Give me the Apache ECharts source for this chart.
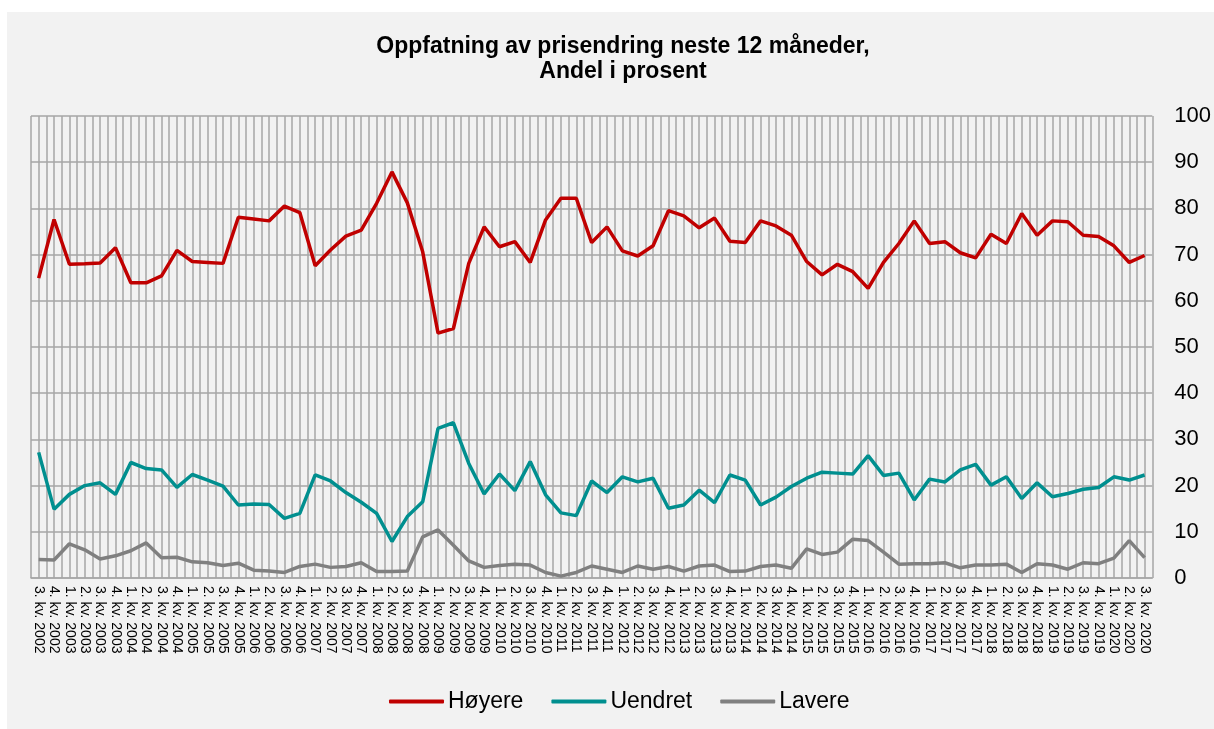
<!DOCTYPE html>
<html>
<head>
<meta charset="utf-8">
<script src="https://cdn.jsdelivr.net/npm/echarts@6/dist/echarts.min.js"></script>
<style>
  html, body { margin: 0; padding: 0; background: #ffffff; }
  #chart { position: absolute; left: 7px; top: 12px; width: 1207px; height: 717px; background: #f2f2f2; }
</style>
</head>
<body>
<div id="chart"></div>
<script>
// kvartaler 3. kv. 2002 - 3. kv. 2020
const quarters = [];
for (let y = 2002; y <= 2020; y++) {
  for (let q = 1; q <= 4; q++) {
    if (y === 2002 && q < 3) continue;
    if (y === 2020 && q > 3) continue;
    quarters.push(q + ". kv. " + y);
  }
}

const hoyere = [
  64.9, 77.6, 67.9, 68.0, 68.2, 71.5, 63.9, 63.9, 65.4, 70.9,
  68.5, 68.3, 68.1, 78.1, 77.7, 77.3, 80.5, 79.1, 67.6, 71.0,
  74.0, 75.3, 81.1, 87.9, 81.2, 70.6, 53.0, 54.0, 68.1, 76.0,
  71.7, 72.8, 68.3, 77.5, 82.2, 82.2, 72.6, 76.0, 70.8, 69.7,
  71.9, 79.5, 78.4, 75.8, 77.9, 72.9, 72.6, 77.3, 76.2, 74.2,
  68.5, 65.6, 67.9, 66.3, 62.7, 68.3, 72.4, 77.3, 72.4, 72.8,
  70.4, 69.3, 74.4, 72.4, 78.9, 74.2, 77.3, 77.1, 74.2, 73.9,
  71.9, 68.3, 69.8
];

const uendret = [
  27.2, 14.9, 18.1, 20.0, 20.6, 18.1, 25.0, 23.7, 23.4, 19.6,
  22.4, 21.2, 19.9, 15.8, 16.0, 15.9, 12.9, 14.0, 22.3, 21.0,
  18.5, 16.4, 14.0, 7.9, 13.3, 16.5, 32.4, 33.6, 24.8, 18.2,
  22.5, 18.9, 25.2, 18.0, 14.1, 13.5, 21.0, 18.5, 21.9, 20.8,
  21.6, 15.1, 15.8, 19.0, 16.3, 22.3, 21.2, 15.8, 17.5, 19.8,
  21.6, 22.9, 22.7, 22.5, 26.5, 22.2, 22.7, 16.9, 21.4, 20.8,
  23.4, 24.6, 20.1, 21.9, 17.2, 20.6, 17.6, 18.3, 19.2, 19.6,
  21.9, 21.2, 22.3
];

const lavere = [
  4.0, 3.9, 7.4, 6.1, 4.1, 4.8, 5.9, 7.6, 4.4, 4.5,
  3.5, 3.3, 2.7, 3.2, 1.7, 1.5, 1.2, 2.5, 3.0, 2.3,
  2.5, 3.3, 1.4, 1.4, 1.5, 8.9, 10.4, 7.1, 3.7, 2.3,
  2.7, 3.0, 2.8, 1.2, 0.4, 1.2, 2.6, 1.9, 1.2, 2.6,
  1.9, 2.5, 1.5, 2.6, 2.8, 1.4, 1.5, 2.5, 2.8, 2.1,
  6.3, 5.1, 5.6, 8.4, 8.1, 5.6, 3.0, 3.1, 3.1, 3.3,
  2.2, 2.8, 2.8, 3.0, 1.2, 3.1, 2.8, 1.9, 3.3, 3.1,
  4.3, 8.1, 4.4
];

const yTicks = [0, 10, 20, 30, 40, 50, 60, 70, 80, 90, 100];

const gridColor = "#a6a6a6";
const font = "'Liberation Sans', Arial, sans-serif";

const chart = echarts.init(document.getElementById("chart"));

chart.setOption({
  animation: false,
  textStyle: { fontFamily: font },
  title: {
    text: "Oppfatning av prisendring neste 12 måneder,\nAndel i prosent",
    left: 611,
    top: 17,
    textAlign: "center",
    textStyle: {
      fontFamily: font,
      fontSize: 23,
      fontWeight: "bold",
      color: "#000",
      lineHeight: 25
    }
  },
  legend: {
    top: 673,
    left: 377,
    itemWidth: 55,
    itemHeight: 4,
    itemGap: 28,
    icon: "roundRect",
    textStyle: { fontFamily: font, fontSize: 23, color: "#000", padding: [0, 0, 0, -1] },
    data: ["Høyere", "Uendret", "Lavere"]
  },
  grid: {
    left: 24,
    right: 59,
    top: 104,
    bottom: 151,
    containLabel: false
  },
  xAxis: [
    {
      type: "category",
      data: quarters,
      boundaryGap: true,
      axisLine: { show: true, lineStyle: { color: gridColor, width: 1.5 } },
      axisTick: { show: false },
      splitLine: { show: false },
      axisLabel: {
        interval: 0,
        rotate: -90,
        fontSize: 14,
        color: "#000",
        margin: 8,
        fontFamily: font
      }
    },
    {
      type: "value",
      min: -0.5,
      max: quarters.length - 0.5,
      interval: 0.5,
      position: "bottom",
      axisLine: { show: false },
      axisTick: { show: false },
      axisLabel: { show: false },
      splitLine: { show: true, lineStyle: { color: gridColor, width: 1.5 } }
    }
  ],
  yAxis: {
    type: "value",
    position: "right",
    min: yTicks[0],
    max: yTicks[yTicks.length - 1],
    interval: 10,
    axisLine: { show: false },
    axisTick: { show: false },
    axisLabel: { fontSize: 22, color: "#000", margin: 22, fontFamily: font },
    splitLine: { show: true, lineStyle: { color: gridColor, width: 1.5 } }
  },
  series: [
    {
      name: "Høyere",
      type: "line",
      xAxisIndex: 0,
      data: hoyere,
      symbol: "none",
      lineStyle: { color: "#c00000", width: 3.5 },
      itemStyle: { color: "#c00000" }
    },
    {
      name: "Uendret",
      type: "line",
      xAxisIndex: 0,
      data: uendret,
      symbol: "none",
      lineStyle: { color: "#008f8f", width: 3.5 },
      itemStyle: { color: "#008f8f" }
    },
    {
      name: "Lavere",
      type: "line",
      xAxisIndex: 0,
      data: lavere,
      symbol: "none",
      lineStyle: { color: "#808080", width: 3.5 },
      itemStyle: { color: "#808080" }
    }
  ]
});
</script>
</body>
</html>
